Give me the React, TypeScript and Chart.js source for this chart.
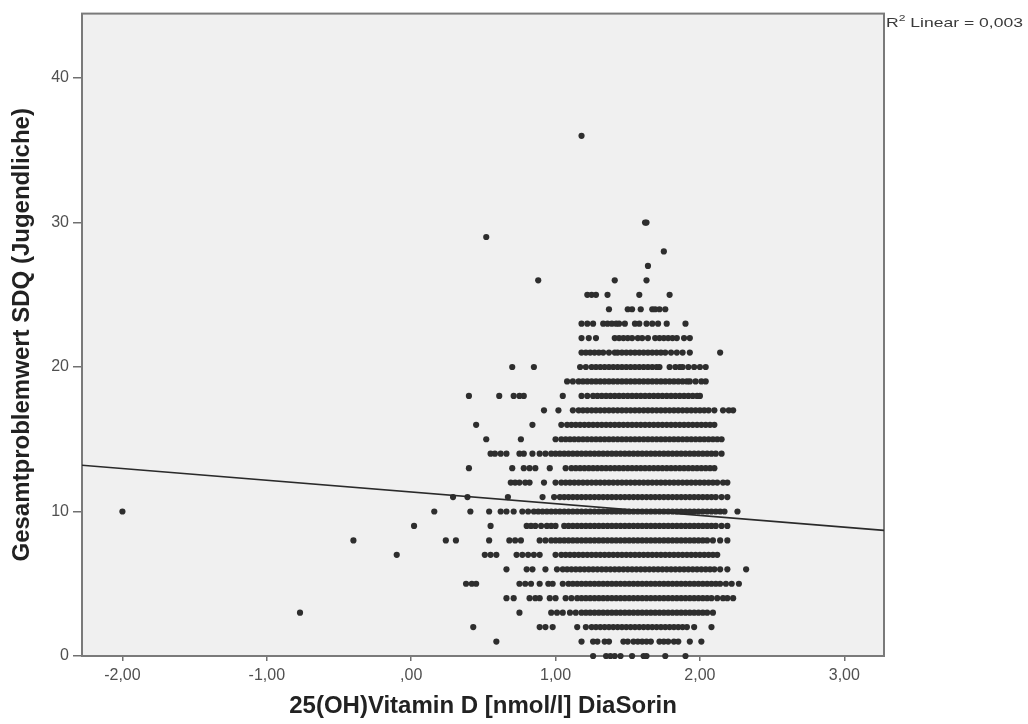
import React, { useEffect, useRef } from "react";
import { Chart, registerables } from "chart.js";

Chart.register(...registerables);

// ---------- data (x values in hundredths, one string per SDQ score level) ----------
const yLevels: number[] = [
  0, 1, 2, 3, 4, 5, 6, 7, 8, 9, 10, 11, 12, 13, 14, 15, 16, 17, 18, 19, 20,
  21, 22, 23, 24, 25, 26, 27, 28, 29, 30, 36,
];

const xByLevel: string[] = [
  "126 135 138 141 145 153 161 163 176 190",
  "59 118 126 129 134 137 147 150 154 157 160 163 166 172 175 178 182 185 193 201",
  "43 89 93 98 115 121 125 128 131 134 137 140 143 146 149 152 155 158 161 164 167 170 173 176 179 182 185 188 191 196 208",
  "-77 75 97 101 105 110 114 118 121 124 127 130 133 136 139 142 145 148 151 154 157 160 163 166 169 172 175 178 181 184 187 190 193 196 199 202 205 209",
  "66 71 82 86 89 96 100 107 111 115 118 121 124 127 130 133 136 139 142 145 148 151 154 157 160 163 166 169 172 175 178 181 184 187 190 193 196 199 202 205 208 212 216 219 223",
  "38 42 45 75 79 83 89 95 98 105 109 112 115 118 121 124 127 130 133 136 139 142 145 148 151 154 157 160 163 166 169 172 175 178 181 184 187 190 193 196 199 202 205 208 211 214 218 222 227",
  "66 80 84 93 101 105 108 111 114 117 120 123 126 129 132 135 138 141 144 147 150 153 156 159 162 165 168 171 174 177 180 183 186 189 192 195 198 201 204 207 210 214 219 232",
  "-10 51 55 59 73 77 81 85 89 100 104 107 110 113 116 119 122 125 128 131 134 137 140 143 146 149 152 155 158 161 164 167 170 173 176 179 182 185 188 191 194 197 200 203 206 209 212",
  "-40 24 31 54 68 72 76 89 93 97 100 103 106 109 112 115 118 121 124 127 130 133 136 139 142 145 148 151 154 157 160 163 166 169 172 175 178 181 184 187 190 193 196 199 202 205 209 214 219",
  "2 55 80 83 86 90 94 97 100 106 109 112 115 118 121 124 127 130 133 136 139 142 145 148 151 154 157 160 163 166 169 172 175 178 181 184 187 190 193 196 199 202 205 208 211 215 219",
  "-200 16 41 54 62 66 71 77 81 85 88 91 94 97 100 103 106 109 112 115 118 121 124 127 130 133 136 139 142 145 148 151 154 157 160 163 166 169 172 175 178 181 184 187 190 193 196 199 202 205 208 211 214 217 226",
  "29 39 67 91 99 103 106 109 112 115 118 121 124 127 130 133 136 139 142 145 148 151 154 157 160 163 166 169 172 175 178 181 184 187 190 193 196 199 202 205 208 211 215 219",
  "69 72 75 79 82 92 100 104 107 110 113 116 119 122 125 128 131 134 137 140 143 146 149 152 155 158 161 164 167 170 173 176 179 182 185 188 191 194 197 200 203 206 209 212 216 219",
  "40 70 78 82 86 96 107 111 114 117 120 123 126 129 132 135 138 141 144 147 150 153 156 159 162 165 168 171 174 177 180 183 186 189 192 195 198 201 204 207 210",
  "55 58 62 66 75 78 84 89 93 97 100 103 106 109 112 115 118 121 124 127 130 133 136 139 142 145 148 151 154 157 160 163 166 169 172 175 178 181 184 187 190 193 196 199 202 205 208 211 215",
  "52 76 100 104 107 110 113 116 119 122 125 128 131 134 137 140 143 146 149 152 155 158 161 164 167 170 173 176 179 182 185 188 191 194 197 200 203 206 209 212 215",
  "45 84 104 108 111 114 117 120 123 126 129 132 135 138 141 144 147 150 153 156 159 162 165 168 171 174 177 180 183 186 189 192 195 198 201 204 207 210",
  "92 102 112 116 119 122 125 128 131 134 137 140 143 146 149 152 155 158 161 164 167 170 173 176 179 182 185 188 191 194 197 200 203 206 210 216 220 223",
  "40 61 71 75 78 105 118 122 126 129 132 135 138 141 144 147 150 153 156 159 162 165 168 171 174 177 180 183 186 189 192 195 198 200",
  "108 112 116 119 122 125 128 131 134 137 140 143 146 149 152 155 158 161 164 167 170 173 176 179 182 185 188 191 193 197 201 204",
  "70 85 117 121 125 128 131 134 137 140 143 146 149 152 155 158 161 164 167 170 172 179 183 186 188 192 196 200 204",
  "118 121 124 127 130 133 137 141 143 146 149 152 155 158 161 164 167 170 173 176 180 184 188 193 214",
  "118 123 128 141 144 147 150 153 157 160 164 169 172 175 178 181 184 189 193",
  "118 122 126 133 136 139 142 144 148 155 158 163 167 171 177 190",
  "137 150 153 159 167 169 172 176",
  "122 125 128 136 158 179",
  "88 141 163",
  "164",
  "175",
  "52",
  "162 163",
  "118",
];

// Linear fit (R² Linear = 0,003)
const fitIntercept = 11.35;
const fitSlope = -0.81;
const r2Label = "0,003";

const xMin = -2.28;
const xMax = 3.275;
const yMin = 0;
const yMax = 44.46;

const xTickValues = [-2, -1, 0, 1, 2, 3];
const xTickLabels = ["-2,00", "-1,00", ",00", "1,00", "2,00", "3,00"];
const yTickValues = [0, 10, 20, 30, 40];
const yTickLabels = ["0", "10", "20", "30", "40"];

const xTitle = "25(OH)Vitamin D [nmol/l] DiaSorin";
const yTitle = "Gesamtproblemwert SDQ (Jugendliche)";

// ---------- chart ----------
const W = 1028;
const H = 724;

const scatterPoints = yLevels.flatMap((y, i) =>
  xByLevel[i]
    .split(" ")
    .filter((s) => s.length > 0)
    .map((s) => ({ x: Number(s) / 100, y }))
);

const fitPoints = [
  { x: xMin, y: fitIntercept + fitSlope * xMin },
  { x: xMax, y: fitIntercept + fitSlope * xMax },
];

const framePlugin = {
  id: "spssFrame",
  beforeDatasetsDraw(chart: any) {
    const { ctx, chartArea } = chart;
    const { left, top, right, bottom } = chartArea;
    ctx.save();
    ctx.fillStyle = "#f0f0f0";
    ctx.fillRect(left, top, right - left, bottom - top);
    ctx.strokeStyle = "#7a7a7a";
    ctx.lineWidth = 2;
    ctx.strokeRect(left, top, right - left, bottom - top);
    ctx.restore();
  },
  afterDraw(chart: any) {
    const { ctx, chartArea } = chart;
    ctx.save();
    ctx.translate(chartArea.right + 2, 23);
    ctx.scale(1.35, 1);
    ctx.fillStyle = "#3a3a3a";
    ctx.textBaseline = "middle";
    ctx.textAlign = "left";
    ctx.font = '13px "Liberation Sans", Arial, sans-serif';
    ctx.fillText("R", 0, 0);
    let x = ctx.measureText("R").width;
    ctx.font = '9px "Liberation Sans", Arial, sans-serif';
    ctx.fillText("2", x, -4);
    x += ctx.measureText("2").width;
    ctx.font = '13px "Liberation Sans", Arial, sans-serif';
    ctx.fillText(" Linear = " + r2Label, x, 0);
    ctx.restore();
  },
};

export default function App() {
  const ref = useRef<HTMLCanvasElement | null>(null);

  useEffect(() => {
    if (!ref.current) return;
    const chart = new Chart(ref.current, {
      type: "scatter",
      data: {
        datasets: [
          {
            type: "line",
            label: "Linear fit",
            data: fitPoints,
            borderColor: "#2a2a2a",
            borderWidth: 1.6,
            pointRadius: 0,
            fill: false,
          } as any,
          {
            type: "scatter",
            label: "Data",
            data: scatterPoints,
            pointRadius: 3.1,
            pointHoverRadius: 3.1,
            backgroundColor: "#2e2e2e",
            borderWidth: 0,
            clip: false,
          } as any,
        ],
      },
      options: {
        responsive: false,
        animation: false,
        events: [],
        layout: { padding: { top: 12, right: 144, left: 0, bottom: 0 } },
        plugins: {
          legend: { display: false },
          tooltip: { enabled: false },
        },
        scales: {
          x: {
            type: "linear",
            min: xMin,
            max: xMax,
            afterBuildTicks: (scale: any) => {
              scale.ticks = xTickValues.map((v) => ({ value: v }));
            },
            afterFit: (scale: any) => {
              scale.height = H - 656;
            },
            grid: {
              display: true,
              drawOnChartArea: false,
              drawTicks: true,
              tickLength: 5,
              color: "#707070",
              lineWidth: 1.5,
            },
            border: { display: false },
            ticks: {
              padding: 5,
              color: "#505050",
              maxRotation: 0,
              autoSkip: false,
              font: { family: '"Liberation Sans", Arial, sans-serif', size: 16 },
              callback: (v: any) => {
                const i = xTickValues.indexOf(Number(v));
                return i >= 0 ? xTickLabels[i] : "";
              },
            },
            title: {
              display: true,
              text: xTitle,
              color: "#222",
              padding: { top: 0, bottom: 3 },
              font: {
                family: '"Liberation Sans", Arial, sans-serif',
                size: 24,
                weight: "bold",
                lineHeight: 1.2,
              },
            },
          },
          y: {
            type: "linear",
            min: yMin,
            max: yMax,
            afterBuildTicks: (scale: any) => {
              scale.ticks = yTickValues.map((v) => ({ value: v }));
            },
            afterFit: (scale: any) => {
              scale.width = 82;
            },
            grid: {
              display: true,
              drawOnChartArea: false,
              drawTicks: true,
              tickLength: 9,
              color: "#707070",
              lineWidth: 1.5,
            },
            border: { display: false },
            ticks: {
              padding: 4,
              color: "#505050",
              autoSkip: false,
              font: { family: '"Liberation Sans", Arial, sans-serif', size: 16 },
              callback: (v: any) => {
                const i = yTickValues.indexOf(Number(v));
                return i >= 0 ? yTickLabels[i] : "";
              },
            },
            title: {
              display: true,
              text: yTitle,
              color: "#222",
              padding: { top: 8, bottom: 0 },
              font: {
                family: '"Liberation Sans", Arial, sans-serif',
                size: 24,
                weight: "bold",
                lineHeight: 1.2,
              },
            },
          },
        },
      },
      plugins: [framePlugin],
    });
    return () => chart.destroy();
  }, []);

  return (
    <div
      style={{
        position: "absolute",
        left: 0,
        top: 0,
        width: W,
        height: H,
        background: "#ffffff",
      }}
    >
      <canvas
        ref={ref}
        width={W}
        height={H}
        style={{ display: "block", width: W, height: H }}
      />
    </div>
  );
}
